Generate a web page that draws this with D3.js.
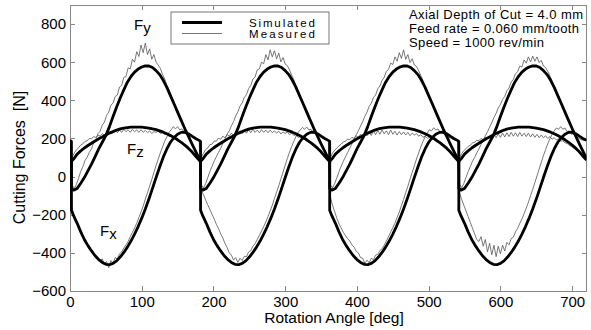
<!DOCTYPE html>
<meta charset="utf-8">
<style>

body { margin: 0; background: #fff; }

text {
  font-family: "Liberation Sans", Arial, Helvetica, sans-serif;
  fill: #000;
}

.axis .tick line { stroke: #888; shape-rendering: crispEdges; }
.axis .tick text { font-size: 15px; }
.axis .domain { display: none; }

.frame { fill: none; stroke: #888; shape-rendering: crispEdges; }

.measured { fill: none; stroke: #555; stroke-width: 0.8; }
.simulated { fill: none; stroke: #000; stroke-width: 2.8; stroke-linejoin: round; }

</style>
<svg width="591" height="330"></svg>
<script src="https://d3js.org/d3.v7.min.js"></script>
<script>

// simulated curves: angle (deg) with repeated angles where the force jumps
var simAngle = [0,
  2,2,5,10,15,20,25,30,35,40,45,50,55,60,65,70,75,80,85,90,95,100,105,110,115,120,125,130,135,140,145,150,155,160,165,170,175,180,
  182,182,185,190,195,200,205,210,215,220,225,230,235,240,245,250,255,260,265,270,275,280,285,290,295,300,305,310,315,320,325,330,335,340,345,350,355,360,
  362,362,365,370,375,380,385,390,395,400,405,410,415,420,425,430,435,440,445,450,455,460,465,470,475,480,485,490,495,500,505,510,515,520,525,530,535,540,
  542,542,545,550,555,560,565,570,575,580,585,590,595,600,605,610,615,620,625,630,635,640,645,650,655,660,665,670,675,680,685,690,695,700,705,710,715,720];

var simFx = [190,
  185,-176,-205,-245,-290,-330,-362,-390,-415,-435,-450,-460,-462,-455,-442,-422,-398,-370,-338,-302,-262,-218,-170,-118,-62,-5,50,102,145,180,205,222,232,233,225,212,200,190,
  185,-176,-205,-245,-290,-330,-362,-390,-415,-435,-450,-460,-462,-455,-442,-422,-398,-370,-338,-302,-262,-218,-170,-118,-62,-5,50,102,145,180,205,222,232,233,225,212,200,190,
  185,-176,-205,-245,-290,-330,-362,-390,-415,-435,-450,-460,-462,-455,-442,-422,-398,-370,-338,-302,-262,-218,-170,-118,-62,-5,50,102,145,180,205,222,232,233,225,212,200,190,
  185,-176,-205,-245,-290,-330,-362,-390,-415,-435,-450,-460,-462,-455,-442,-422,-398,-370,-338,-302,-262,-218,-170,-118,-62,-5,50,102,145,180,205,222,232,233,225,212,200,190];

var simFy = [96,
  82,-62,-71,-62,-35,-5,30,65,105,145,180,215,262,315,365,412,455,495,525,548,564,575,581,580,572,556,535,505,468,425,382,338,295,252,212,172,134,96,
  82,-62,-71,-62,-35,-5,30,65,105,145,180,215,262,315,365,412,455,495,525,548,564,575,581,580,572,556,535,505,468,425,382,338,295,252,212,172,134,96,
  82,-62,-71,-62,-35,-5,30,65,105,145,180,215,262,315,365,412,455,495,525,548,564,575,581,580,572,556,535,505,468,425,382,338,295,252,212,172,134,96,
  82,-62,-71,-62,-35,-5,30,65,105,145,180,215,262,315,365,412,455,495,525,548,564,575,581,580,572,556,535,505,468,425,382,338,295,252,212,172,134,96];

var simFz = [86,
  80,80,92,118,135,150,163,175,187,198,208,218,228,236,244,250,254,257,259,260,260,259,257,254,250,246,240,233,225,215,205,193,180,165,149,130,108,86,
  80,80,92,118,135,150,163,175,187,198,208,218,228,236,244,250,254,257,259,260,260,259,257,254,250,246,240,233,225,215,205,193,180,165,149,130,108,86,
  80,80,92,118,135,150,163,175,187,198,208,218,228,236,244,250,254,257,259,260,260,259,257,254,250,246,240,233,225,215,205,193,180,165,149,130,108,86,
  80,80,92,118,135,150,163,175,187,198,208,218,228,236,244,250,254,257,259,260,260,259,257,254,250,246,240,233,225,215,205,193,180,165,149,130,108,86];

// measured curves, one sample every 3 deg from 0 to 720
var measStep = 3;

var measFx = [
  190,-170,-205,-235,-262,-290,-315,-340,-360,-378,
  -392,-405,-418,-425,-440,-432,-458,-445,-478,-440,
  -455,-425,-432,-405,-395,-375,-358,-340,-315,-292,
  -270,-245,-215,-185,-155,-118,-85,-50,-15,22,
  58,92,125,155,185,208,232,245,262,250,
  262,245,250,232,236,218,220,205,202,192,
  190,-70,-95,-122,-148,-172,-198,-222,-250,-272,
  -300,-322,-350,-372,-400,-412,-438,-425,-450,-428,
  -440,-418,-420,-395,-388,-365,-352,-330,-308,-285,
  -262,-238,-210,-180,-150,-115,-82,-48,-12,24,
  60,95,128,158,185,210,232,245,258,248,
  260,245,248,230,235,218,218,205,200,192,
  190,-110,-150,-185,-218,-248,-270,-292,-310,-325,
  -338,-358,-370,-392,-400,-425,-428,-455,-438,-452,
  -428,-436,-412,-408,-388,-378,-360,-338,-316,-290,
  -268,-244,-214,-186,-152,-120,-84,-50,-14,22,
  56,92,124,156,184,208,228,246,240,256,
  244,250,232,236,220,220,206,202,195,190,
  190,-85,-120,-150,-180,-210,-240,-270,-300,-330,
  -340,-315,-365,-330,-395,-350,-410,-360,-420,-365,
  -405,-360,-390,-345,-358,-325,-318,-290,-272,-245,
  -222,-195,-165,-135,-100,-68,-32,4,40,75,
  110,142,172,198,222,240,255,248,262,248,
  255,236,240,222,225,208,205,196,192,190,
  190];

var measFy = [
  90,-45,-62,-40,-8,28,52,85,102,128,
  146,178,192,225,238,270,285,322,338,375,
  385,420,428,470,478,520,525,570,565,615,
  600,655,630,690,650,700,640,670,615,640,
  600,585,568,535,512,480,455,425,400,365,
  348,312,292,258,242,210,192,160,140,110,
  90,-42,-60,-38,-6,26,54,82,104,126,
  148,174,196,222,240,266,288,318,340,370,
  386,415,430,462,478,512,522,560,565,600,
  592,640,612,665,628,660,618,648,602,625,
  590,582,560,532,508,478,450,422,396,364,
  345,310,290,258,240,210,190,160,140,110,
  90,-44,-58,-36,-6,26,55,80,104,126,
  148,172,195,220,240,265,288,316,338,368,
  385,415,428,460,475,505,520,552,562,595,
  588,628,605,650,620,665,615,640,598,618,
  585,578,556,530,505,476,450,420,394,362,
  345,310,290,256,240,208,190,158,140,110,
  90,-40,-58,-36,-5,26,52,80,100,124,
  145,168,190,215,235,260,282,310,332,360,
  378,405,420,450,465,495,510,540,550,580,
  575,612,595,628,602,632,605,628,598,610,
  580,572,552,528,502,474,448,420,392,362,
  344,310,288,256,238,208,188,158,138,110,
  90];

var measFz = [
  86,100,125,140,152,165,172,185,188,200,
  198,210,205,218,212,225,218,232,222,238,
  228,242,230,245,232,248,235,246,232,248,
  235,245,232,246,232,242,230,240,226,236,
  232,238,226,230,220,222,210,212,200,198,
  186,182,170,165,155,146,132,124,108,98,
  86,102,122,142,150,168,170,186,186,202,
  196,212,204,220,212,228,216,236,222,240,
  226,244,228,246,230,248,232,244,230,246,
  232,244,230,244,230,240,228,238,224,234,
  226,234,220,228,216,220,206,210,198,196,
  186,180,170,162,154,144,132,122,108,98,
  86,100,124,138,150,162,170,182,186,196,
  194,206,200,214,206,222,210,228,214,235,
  216,240,220,242,222,245,224,240,220,244,
  222,238,218,236,220,234,218,232,215,228,
  218,226,212,220,206,212,200,206,194,196,
  184,180,168,162,152,144,130,122,108,98,
  86,100,120,136,146,158,165,176,180,190,
  188,200,194,206,198,212,202,218,204,224,
  206,228,208,230,210,232,212,230,210,232,
  212,228,210,228,208,225,206,222,204,218,
  204,214,200,210,196,204,192,198,186,188,
  178,174,164,158,150,142,130,120,106,96,
  86];

var xTicks = [0, 100, 200, 300, 400, 500, 600, 700];
var yTicks = [-600, -400, -200, 0, 200, 400, 600, 800];

var notes = ["Axial Depth of Cut = 4.0 mm", "Feed rate = 0.060 mm/tooth", "Speed = 1000 rev/min"];

var svg = d3.select("svg"),
    margin = {top: 5, right: 4.5, bottom: 39, left: 70},
    width = +svg.attr("width") - margin.left - margin.right,
    height = +svg.attr("height") - margin.top - margin.bottom,
    g = svg.append("g").attr("transform", "translate(" + margin.left + "," + margin.top + ")");

var x = d3.scaleLinear().domain([0, 720]).range([0, width]);
var y = d3.scaleLinear().domain([-600, 900]).range([height, 0]);

// axes, ticks pointing inward on all four sides
g.append("g").attr("class", "axis")
    .attr("transform", "translate(0," + height + ")")
    .call(d3.axisBottom(x).tickValues(xTicks).tickSize(-5).tickPadding(5.5));
g.append("g").attr("class", "axis")
    .call(d3.axisTop(x).tickValues(xTicks).tickSize(-5).tickFormat(""));
g.append("g").attr("class", "axis")
    .call(d3.axisLeft(y).tickValues(yTicks).tickSize(-5).tickPadding(4));
g.append("g").attr("class", "axis")
    .attr("transform", "translate(" + width + ",0)")
    .call(d3.axisRight(y).tickValues(yTicks).tickSize(-5).tickFormat(""));

g.append("rect").attr("class", "frame")
    .attr("width", width).attr("height", height);

g.append("clipPath").attr("id", "clip")
  .append("rect").attr("width", width).attr("height", height);

var plot = g.append("g").attr("clip-path", "url(#clip)");

var measLine = d3.line()
    .x(function(d, i) { return x(i * measStep); })
    .y(function(d) { return y(d); });

var simLine = d3.line()
    .x(function(d, i) { return x(simAngle[i]); })
    .y(function(d) { return y(d); });

[measFx, measFy, measFz].forEach(function(s) {
  plot.append("path").attr("class", "measured").attr("d", measLine(s));
});
[simFx, simFy, simFz].forEach(function(s) {
  plot.append("path").attr("class", "simulated").attr("d", simLine(s));
});

// curve names
function label(px, py, sub) {
  var t = svg.append("text").attr("x", px).attr("y", py).style("font-size", "15px").text("F");
  t.append("tspan").attr("dy", 3).text(sub);
}
label(134, 30, "y");
label(127, 154, "z");
label(100, 236, "x");

// legend
var lg = svg.append("g");
lg.append("rect").attr("x", 171).attr("y", 12).attr("width", 158).attr("height", 32)
    .attr("fill", "#fff").attr("stroke", "#777");
lg.append("line").attr("x1", 182).attr("x2", 222).attr("y1", 22.5).attr("y2", 22.5)
    .attr("stroke", "#000").attr("stroke-width", 3);
lg.append("line").attr("x1", 182).attr("x2", 222).attr("y1", 33.5).attr("y2", 33.5)
    .attr("stroke", "#555").attr("stroke-width", 0.8);
lg.append("text").attr("x", 249).attr("y", 26.5).style("font-size", "11.5px")
    .attr("textLength", 66).attr("lengthAdjust", "spacing").text("Simulated");
lg.append("text").attr("x", 249).attr("y", 38).style("font-size", "11.5px")
    .attr("textLength", 66).attr("lengthAdjust", "spacing").text("Measured");

// cutting conditions
var noteLen = [174, 170, 135];
svg.selectAll(".note").data(notes).enter().append("text")
    .attr("class", "note")
    .attr("x", 409)
    .attr("y", function(d, i) { return 18.5 + i * 14; })
    .attr("textLength", function(d, i) { return noteLen[i]; })
    .attr("lengthAdjust", "spacing")
    .style("font-size", "13px")
    .text(function(d) { return d; });

// axis titles
svg.append("text")
    .attr("x", 334).attr("y", 323)
    .attr("text-anchor", "middle")
    .style("font-size", "15.5px")
    .text("Rotation Angle [deg]");

svg.append("text")
    .attr("transform", "translate(25,157.5) rotate(-90)")
    .attr("text-anchor", "middle")
    .style("font-size", "16px")
    .style("white-space", "pre")
    .text("Cutting Forces  [N]");

</script>
